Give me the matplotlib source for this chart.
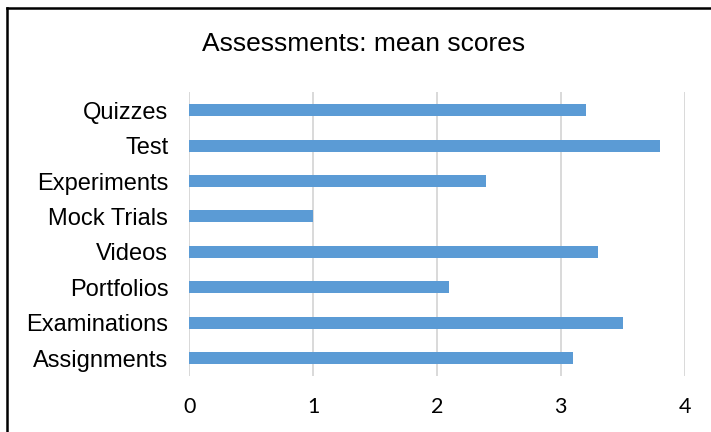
import matplotlib.pyplot as plt
from matplotlib.lines import Line2D

# --- datos del gráfico (de abajo hacia arriba) ---
categorias = ["Assignments", "Examinations", "Portfolios", "Videos",
              "Mock Trials", "Experiments", "Test", "Quizzes"]
medias = [3.1, 3.5, 2.1, 3.3, 1.0, 2.4, 3.8, 3.2]
ticks_x = [0, 1, 2, 3, 4]
titulo = "Assessments: mean scores"

fig = plt.figure(figsize=(7.11, 4.32), dpi=100)
ax = fig.add_axes([0.266, 0.130, 0.697, 0.656])

ax.barh(range(len(categorias)), medias, height=0.34, color="#5B9BD5", zorder=3)

ax.set_xlim(0, 4)
ax.set_ylim(-0.5, len(categorias) - 0.5)
ax.set_xticks(ticks_x)
ax.set_yticks(range(len(categorias)))
ax.set_yticklabels(categorias, fontsize=17, family=["Liberation Sans", "DejaVu Sans"])
ax.set_xticklabels([str(t) for t in ticks_x], fontsize=15.5, family=["Lato", "DejaVu Sans"])
ax.tick_params(axis="both", length=0)
ax.tick_params(axis="y", pad=15)
ax.tick_params(axis="x", pad=15)

for s in ax.spines.values():
    s.set_visible(False)
ax.grid(axis="x", color="#D9D9D9", linewidth=1.4, zorder=0)
ax.axvline(0, color="#D9D9D9", linewidth=1.4, zorder=1)

fig.text(0.512, 0.898, titulo, ha="center", va="center", fontsize=19,
         family=["Liberation Sans", "DejaVu Sans"])

# marco negro (solo se ven los bordes superior e izquierdo)
x0, y0 = 6.5 / 711, 1 - 8 / 432
fig.add_artist(Line2D([x0, 1], [y0, y0], transform=fig.transFigure,
                      color="black", linewidth=1.8))
fig.add_artist(Line2D([x0, x0], [0, y0], transform=fig.transFigure,
                      color="black", linewidth=1.8))

fig.savefig("out.png", dpi=100)
